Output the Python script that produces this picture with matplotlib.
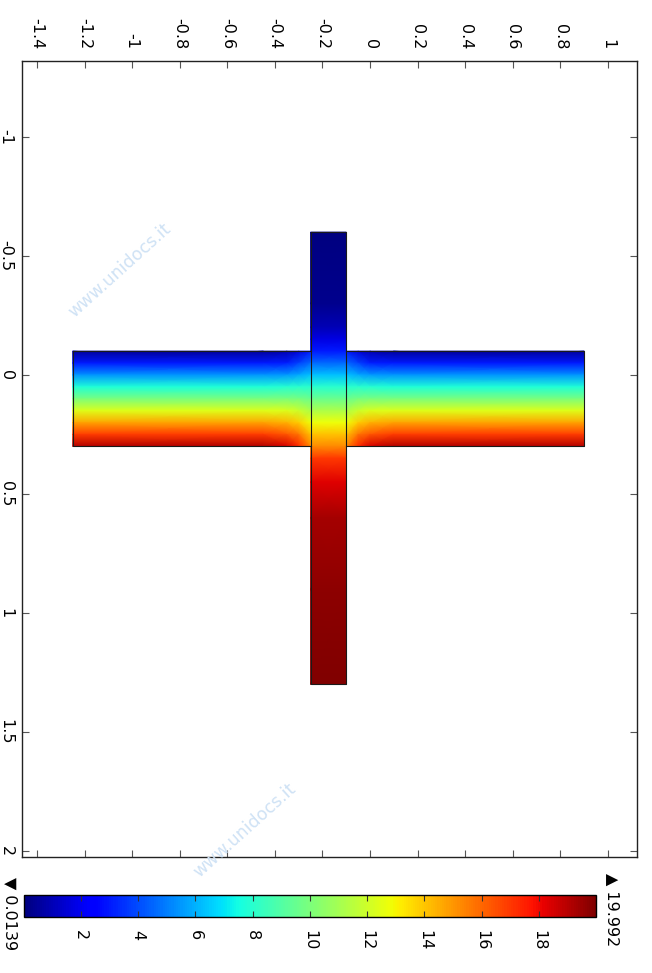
import numpy as np
import matplotlib
matplotlib.use("Agg")
import matplotlib.pyplot as plt
from matplotlib.patches import Rectangle

plt.rcParams['font.family'] = ['DejaVu Sans']
plt.rcParams['axes.unicode_minus'] = False

# ---------------- data ----------------
x_ticks = [-1.4, -1.2, -1.0, -0.8, -0.6, -0.4, -0.2, 0.0, 0.2, 0.4, 0.6, 0.8, 1.0]
x_tick_labels = ['-1.4', '-1.2', '-1', '-0.8', '-0.6', '-0.4', '-0.2', '0', '0.2', '0.4', '0.6', '0.8', '1']
y_ticks = [-1.0, -0.5, 0.0, 0.5, 1.0, 1.5, 2.0]
y_tick_labels = ['-1', '-0.5', '0', '0.5', '1', '1.5', '2']
cbar_ticks = [2, 4, 6, 8, 10, 12, 14, 16, 18]
cbar_tick_labels = ['2', '4', '6', '8', '10', '12', '14', '16', '18']
vmin, vmax = 0.0139, 19.992

# geometry (domain corners)
vbar_x = [-0.25, -0.10]
vbar_ylim = [-0.6, 1.3]
hbar_x = [-1.25, 0.90]
hbar_ylim = [-0.1, 0.3]

# vertical bar profile (value vs y)
vbar_y = [-0.6, -0.3, -0.2, -0.15, -0.1, -0.05, 0.0, 0.05, 0.1, 0.15, 0.2, 0.25, 0.3,
          0.35, 0.45, 0.6, 0.9, 1.3]
vbar_vals = [0.05, 0.3, 1.0, 1.8, 3.0, 4.6, 6.3, 8.0, 9.6, 11.2, 12.8, 14.1, 15.3,
             17.0, 18.3, 19.3, 19.75, 19.95]

# horizontal bar profiles (value vs y), far from the junction and close to it
hbar_y = [-0.1, -0.05, 0.0, 0.05, 0.1, 0.15, 0.2, 0.25, 0.3]
hbar_far = [0.5, 3.0, 5.4, 7.8, 10.0, 12.4, 14.7, 16.9, 19.1]
hbar_mid_far = [0.9, 3.1, 5.5, 7.9, 10.0, 12.3, 14.4, 16.4, 18.5]   # 0.10 from bar edge
hbar_mid_near = [1.6, 3.8, 5.8, 8.0, 9.9, 11.9, 13.9, 15.7, 17.3]  # 0.05 from bar edge
hbar_edge = [3.0, 4.6, 6.3, 8.0, 9.6, 11.2, 12.8, 14.1, 15.3]      # at bar edge

# ---------------- figure ----------------
W, H = 652, 973
fig = plt.figure(figsize=(W / 100, H / 100), dpi=100)
ax = fig.add_axes([22 / W, 1 - 857 / H, (637 - 22) / W, (857 - 60.5) / H])
ax.set_xlim(-1.463, 1.122)
ax.set_ylim(2.025, -1.321)

cmap = plt.get_cmap('jet')
norm = matplotlib.colors.Normalize(vmin=vmin, vmax=vmax)

# vertical bar
VX, VY = np.meshgrid(vbar_x, vbar_y)
VC = np.column_stack([vbar_vals, vbar_vals])
mesh = ax.pcolormesh(VX, VY, VC, shading='gouraud', cmap=cmap, norm=norm, zorder=2)

# horizontal bar, left and right parts
table = np.column_stack([hbar_far, hbar_far, hbar_mid_far, hbar_mid_near, hbar_edge])
left_x = [hbar_x[0], vbar_x[0] - 0.2, vbar_x[0] - 0.1, vbar_x[0] - 0.05, vbar_x[0]]
LX, LY = np.meshgrid(left_x, hbar_y)
ax.pcolormesh(LX, LY, table, shading='gouraud', cmap=cmap, norm=norm, zorder=2)
right_x = [vbar_x[1], vbar_x[1] + 0.05, vbar_x[1] + 0.1, vbar_x[1] + 0.2, hbar_x[1]]
RX, RY = np.meshgrid(right_x, hbar_y)
ax.pcolormesh(RX, RY, table[:, ::-1], shading='gouraud', cmap=cmap, norm=norm, zorder=2)

# outlines
lc = '#1a1a1a'
ax.add_patch(Rectangle((vbar_x[0], vbar_ylim[0]), vbar_x[1] - vbar_x[0],
                       vbar_ylim[1] - vbar_ylim[0], fill=False, ec=lc, lw=0.8, zorder=3))
ax.plot([vbar_x[0], hbar_x[0], hbar_x[0], vbar_x[0]],
        [hbar_ylim[0], hbar_ylim[0], hbar_ylim[1], hbar_ylim[1]], color=lc, lw=0.8, zorder=3)
ax.plot([vbar_x[1], hbar_x[1], hbar_x[1], vbar_x[1]],
        [hbar_ylim[0], hbar_ylim[0], hbar_ylim[1], hbar_ylim[1]], color=lc, lw=0.8, zorder=3)

# axes styling
for s in ax.spines.values():
    s.set_linewidth(1.0)
    s.set_color('#222222')
ax.set_xticks(x_ticks)
ax.set_xticklabels(x_tick_labels)
ax.set_yticks(y_ticks)
ax.set_yticklabels(y_tick_labels)
ax.tick_params(axis='x', top=True, bottom=True, labeltop=True, labelbottom=False,
               direction='in', length=5, width=0.8, color='#555555',
               labelrotation=-90, labelsize=11.5, pad=8)
ax.tick_params(axis='y', left=True, right=True, labelleft=True, labelright=False,
               direction='in', length=5, width=0.8, color='#555555',
               labelrotation=-90, labelsize=11.5, pad=6)
for lab in ax.get_yticklabels():
    lab.set_va('center')

# colorbar
cax = fig.add_axes([24 / W, 1 - 917 / H, (596 - 24) / W, 22 / H])
cb = fig.colorbar(mesh, cax=cax, orientation='horizontal')
cb.set_ticks(cbar_ticks)
cb.set_ticklabels(cbar_tick_labels)
cb.outline.set_linewidth(1.0)
cax.tick_params(axis='x', top=True, bottom=True, direction='in', length=4, width=0.8,
                color='#333333', labelrotation=-90, labelsize=11.5, pad=9)

fig.text(10 / W, 1 - 877 / H, '\u25bc 0.0139', rotation=-90, ha='center', va='top',
         fontsize=11.5)
fig.text(612 / W, 1 - 873 / H, '\u25b2 19.992', rotation=-90, ha='center', va='top',
         fontsize=11.5)

# watermark
fig.text(120 / W, 1 - 270 / H, 'www.unidocs.it', rotation=42, ha='center', va='center',
         color='#cfe2f5', fontsize=12.5)
fig.text(245 / W, 1 - 830 / H, 'www.unidocs.it', rotation=42, ha='center', va='center',
         color='#cfe2f5', fontsize=12.5)

fig.savefig('out.png', dpi=100, facecolor='white')
